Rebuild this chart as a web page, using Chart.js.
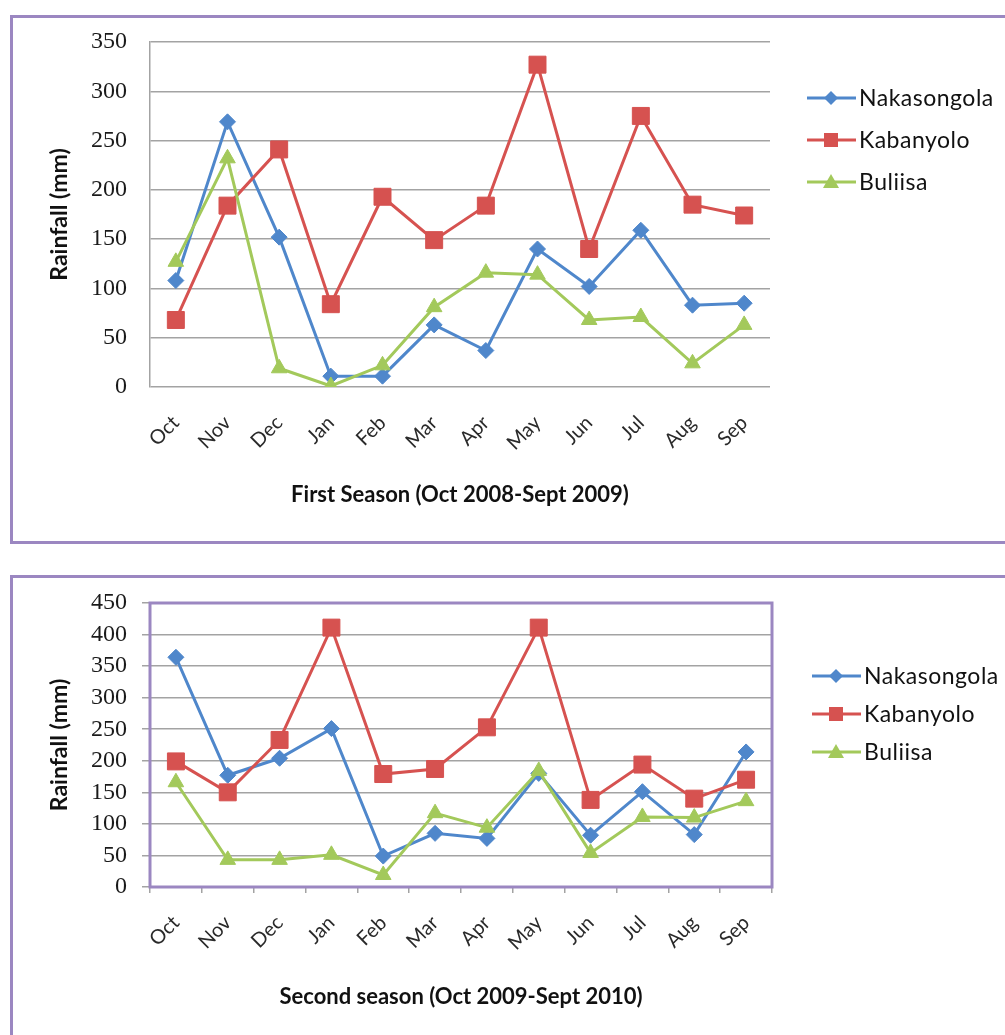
<!DOCTYPE html>
<html>
<head>
<meta charset="utf-8">
<script src="https://cdn.jsdelivr.net/npm/chart.js@4/dist/chart.umd.min.js"></script>
<style>
  html, body { margin: 0; padding: 0; background: #fff; overflow: hidden; }
  body { width: 1005px; height: 1035px; position: relative; }
  .box { position: absolute; left: 10px; width: 1100px; box-sizing: border-box; border: 3px solid #9b87c1; }
  #box1 { top: 15px; height: 529px; }
  #box2 { top: 575px; height: 600px; }
  canvas { position: absolute; left: 0; }
  #chart1 { top: 0; }
  #chart2 { top: 560px; }
</style>
</head>
<body>
<div class="box" id="box1"></div>
<div class="box" id="box2"></div>
<canvas id="chart1" width="1005" height="545"></canvas>
<canvas id="chart2" width="1005" height="475"></canvas>
<script>
// Month labels (both seasons)
const months = ["Oct", "Nov", "Dec", "Jan", "Feb", "Mar", "Apr", "May", "Jun", "Jul", "Aug", "Sep"];
const stations = ["Nakasongola", "Kabanyolo", "Buliisa"];

// First season (Oct 2008 - Sept 2009), rainfall in mm
const s1Nakasongola = [108, 269, 152, 11, 11, 63, 37, 140, 102, 159, 83, 85];
const s1Kabanyolo = [68, 184, 241, 84, 193, 149, 184, 327, 140, 275, 185, 174];
const s1Buliisa = [127, 232, 19, 1, 22, 81, 116, 114, 68, 71, 24, 63];

// Second season (Oct 2009 - Sept 2010), rainfall in mm
const s2Nakasongola = [364, 177, 204, 251, 49, 85, 77, 180, 82, 151, 83, 214];
const s2Kabanyolo = [199, 150, 233, 411, 179, 187, 253, 411, 138, 194, 140, 170];
const s2Buliisa = [166, 43, 43, 51, 19, 117, 94, 184, 54, 111, 110, 136];

const BLUE = "#4f87cb";
const RED = "#d65250";
const GREEN = "#a3c95b";
const GRID = "#a3a3a3";
const PURPLE = "#9b87c1";

// small marker drawer for the side legend
function drawMarker(ctx, style, x, y, color) {
  ctx.fillStyle = color;
  ctx.beginPath();
  if (style === "rectRot") {
    ctx.moveTo(x, y - 7); ctx.lineTo(x + 7, y); ctx.lineTo(x, y + 7); ctx.lineTo(x - 7, y);
  } else if (style === "rect") {
    ctx.rect(x - 7, y - 7, 14, 14);
  } else {
    ctx.moveTo(x, y - 8); ctx.lineTo(x + 8, y + 6); ctx.lineTo(x - 8, y + 6);
  }
  ctx.closePath();
  ctx.fill();
}

// Excel-like legend: line with marker, label to the right
const sideLegend = {
  id: "sideLegend",
  afterDraw(chart, args, opts) {
    const ctx = chart.ctx;
    chart.data.datasets.forEach((ds, i) => {
      const y = opts.y + i * opts.gap;
      ctx.save();
      ctx.strokeStyle = ds.borderColor;
      ctx.lineWidth = 3;
      ctx.beginPath();
      ctx.moveTo(opts.x, y);
      ctx.lineTo(opts.x + 49, y);
      ctx.stroke();
      drawMarker(ctx, ds.pointStyle, opts.x + 24, y, ds.borderColor);
      ctx.fillStyle = "#111";
      ctx.font = "23px Lato";
      ctx.letterSpacing = "0.5px";
      ctx.textBaseline = "middle";
      ctx.fillText(ds.label, opts.x + 52, y + 1);
      ctx.restore();
    });
  },
};

// purple frame round the plot area (second chart only)
const plotFrame = {
  id: "plotFrame",
  beforeDatasetsDraw(chart, args, opts) {
    if (!opts.color) return;
    const a = chart.chartArea;
    const ctx = chart.ctx;
    ctx.save();
    ctx.strokeStyle = opts.color;
    ctx.lineWidth = 3;
    ctx.strokeRect(a.left, a.top, a.right - a.left, a.bottom - a.top);
    ctx.restore();
  },
};

function makeDatasets(nak, kab, bul) {
  return [
    { label: stations[0], data: nak, borderColor: BLUE, backgroundColor: BLUE, pointStyle: "rectRot", pointRadius: 8, order: 3 },
    { label: stations[1], data: kab, borderColor: RED, backgroundColor: RED, pointStyle: "rect", pointRadius: 12, order: 2 },
    { label: stations[2], data: bul, borderColor: GREEN, backgroundColor: GREEN, pointStyle: "triangle", pointRadius: 9, order: 1 },
  ].map((d) => ({ ...d, borderWidth: 3, pointBorderWidth: 1, pointBorderColor: d.borderColor, tension: 0 }));
}

function makeChart(id, cfg) {
  const ctx = document.getElementById(id).getContext("2d");
  return new Chart(ctx, {
    type: "line",
    data: { labels: months, datasets: makeDatasets(...cfg.series) },
    plugins: [sideLegend, plotFrame],
    options: {
      responsive: false,
      animation: false,
      events: [],
      layout: { padding: cfg.padding },
      plugins: {
        legend: { display: false },
        tooltip: { enabled: false },
        sideLegend: cfg.legend,
        plotFrame: { color: cfg.frame ? PURPLE : null },
      },
      scales: {
        x: {
          offset: true,
          grid: {
            display: cfg.frame,
            offset: true,
            drawOnChartArea: false,
            drawTicks: cfg.frame,
            tickLength: 6,
            color: GRID,
            lineWidth: 1.5,
          },
          border: { display: false },
          ticks: {
            minRotation: 45,
            maxRotation: 45,
            autoSkip: false,
            padding: cfg.frame ? 18 : 24,
            color: "#2a2a2a",
            font: { family: "Lato", size: 20 },
          },
          title: {
            display: true,
            text: cfg.xTitle,
            color: "#111",
            font: { family: "Lato", size: 22, weight: "bold" },
            padding: { top: 0, bottom: cfg.titlePad },
          },
          afterFit: (s) => { s.height = cfg.xHeight; },
        },
        y: {
          min: 0,
          max: cfg.yMax,
          ticks: {
            stepSize: 50,
            autoSkip: false,
            padding: cfg.frame ? 15 : 23,
            color: "#1a1a1a",
            font: { family: "Liberation Serif", size: 24 },
          },
          grid: {
            color: GRID,
            lineWidth: 1.5,
            drawTicks: cfg.frame,
            tickLength: 8,
          },
          border: { display: true, color: GRID, width: 1.5 },
          title: {
            display: true,
            text: "Rainfall (mm)",
            color: "#111",
            font: { family: "Lato", size: 23, weight: "bold" },
            padding: { top: 6, bottom: 0 },
          },
          afterFit: (s) => { s.width = 110; },
        },
      },
    },
  });
}

makeChart("chart1", {
  series: [s1Nakasongola, s1Kabanyolo, s1Buliisa],
  yMax: 350,
  frame: false,
  xTitle: "First Season (Oct 2008-Sept 2009)",
  xHeight: 128,
  titlePad: 7,
  padding: { left: 40, top: 42, right: 235, bottom: 30 },
  legend: { x: 807, y: 98, gap: 42 },
});

makeChart("chart2", {
  series: [s2Nakasongola, s2Kabanyolo, s2Buliisa],
  yMax: 450,
  frame: true,
  xTitle: "Second season (Oct 2009-Sept 2010)",
  xHeight: 128,
  titlePad: 5,
  padding: { left: 40, top: 43, right: 233, bottom: 20 },
  legend: { x: 812, y: 116, gap: 38 },
});
</script>
</body>
</html>
